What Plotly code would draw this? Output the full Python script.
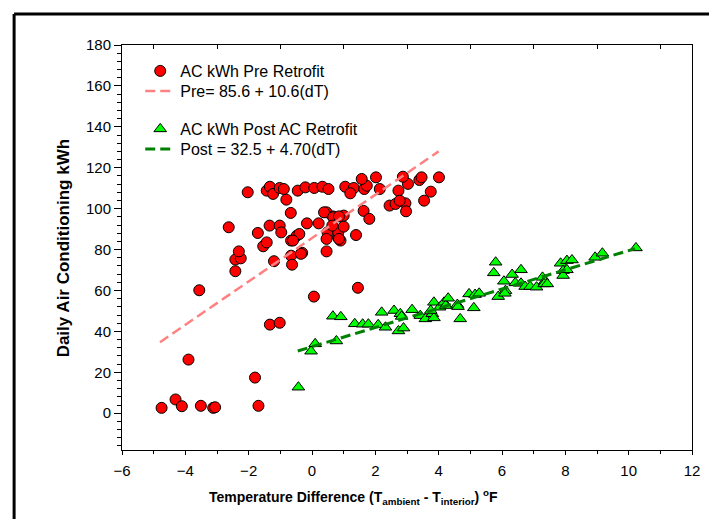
import plotly.graph_objects as go

# ---- data ----
pre_x = [-4.75, -4.31, -4.11, -3.51, -3.12, -3.06, -1.69, -1.80, -3.90, -3.56,
         -1.33, -1.02, 0.06, 1.45, -2.42, -2.42, -2.25, -2.31, -2.63, -2.03,
         -1.71, -1.54, -1.43, -1.20, -1.34, -1.02, -0.97, -0.81, -0.67, -1.43,
         -1.33, -1.23, -1.02, -0.89, -0.45, -0.21, 0.07, 0.33, 0.52, -0.66,
         -0.63, -0.66, -0.48, -0.40, -0.31, -0.16, 0.21, 0.46, 0.49, 0.46,
         0.82, 0.90, 0.83, 1.00, 1.00, 0.66, 0.46, 1.39, 1.05, 1.32,
         1.65, 1.73, 2.14, 1.63, 1.81, 2.73, 2.45, 2.64, 2.95, 2.97,
         3.03, 3.54, 1.21, 1.57, 2.02, 2.87, 3.39, 3.46, 3.75, 4.01,
         2.77, 0.38, 0.67, 0.85, 0.64, -0.60, -0.35, 0.85]
pre_y = [2.6, 6.7, 3.4, 3.6, 2.6, 2.9, 3.6, 17.4, 26.2, 60.1,
         43.3, 44.2, 57.0, 61.3, 69.4, 75.1, 75.7, 79.1, 90.9, 108.0,
         88.1, 81.6, 83.5, 74.3, 91.7, 91.7, 88.4, 104.4, 97.9, 108.8,
         110.7, 107.2, 110.1, 109.6, 108.8, 110.4, 110.1, 110.7, 109.6, 77.0,
         72.6, 84.4, 86.8, 87.6, 78.4, 92.8, 92.8, 98.2, 88.4, 85.2,
         86.0, 84.4, 88.4, 91.2, 96.6, 96.2, 79.1, 87.1, 110.7, 110.1,
         109.6, 111.2, 109.6, 98.9, 95.0, 108.8, 101.5, 102.3, 102.6, 98.7,
         112.1, 103.9, 107.5, 114.5, 115.3, 115.6, 114.0, 115.3, 108.3, 115.3,
         103.9, 98.2, 95.8, 96.2, 91.7, 84.4, 77.9, 85.2]

post_x = [-0.43, -0.03, 0.10, 0.77, 0.66, 0.91, 1.35, 1.60, 1.78, 2.09,
          2.32, 2.20, 2.59, 2.79, 2.83, 3.16, 3.42, 3.58, 2.73, 2.89,
          3.80, 3.85, 3.75, 3.85, 4.03, 4.17, 4.22, 4.30, 4.59, 4.61,
          4.68, 4.96, 5.15, 5.28, 5.11, 5.80, 5.74, 5.88, 6.06, 6.11,
          6.09, 6.32, 6.42, 6.60, 6.60, 6.73, 6.89, 7.09, 7.28, 7.35,
          7.33, 7.43, 7.85, 7.93, 7.93, 8.05, 8.05, 8.21, 8.94, 9.17,
          10.23]
post_y = [12.7, 30.3, 33.9, 35.3, 47.4, 47.1, 43.7, 43.5, 43.5, 43.2,
          42.0, 49.3, 50.2, 48.6, 47.3, 50.6, 47.7, 46.1, 40.2, 41.6,
          48.6, 46.6, 50.2, 54.2, 51.8, 54.2, 52.6, 56.2, 53.1, 52.1,
          46.1, 58.3, 58.0, 58.6, 51.5, 73.8, 68.6, 57.0, 64.5, 59.9,
          58.6, 67.8, 63.7, 70.1, 63.5, 61.9, 61.9, 61.6, 66.4, 64.5,
          63.2, 63.2, 73.3, 69.7, 67.3, 74.6, 70.1, 74.9, 76.2, 78.2,
          80.8]

# regression fits shown in the legend
pre_a, pre_b = 85.6, 10.6
post_a, post_b = 32.5, 4.70
pre_fit_x = [-4.8, 4.0]
post_fit_x = [-0.45, 10.2]

x_range = [-6, 12]
y_range = [-18, 180]
top_ticks = [-5, -3, -1, 1, 3, 5, 7, 9, 11]

# ---- layout geometry ----
# The page body has an 8px default margin, so the figure is sized to fit
# the window and all positions below are given in page pixels.
OFF = 8
W, H = 717 - 2 * OFF, 527 - 2 * OFF
PLOT_L, PLOT_R, PLOT_T, PLOT_B = 121.5, 700, 45, 450  # page pixels
ML = PLOT_L - OFF
MT = PLOT_T - OFF
MR = W - (PLOT_R - OFF)
MB = H - (PLOT_B - OFF)
PW, PH = PLOT_R - PLOT_L, PLOT_B - PLOT_T


def px_x(p):
    return (p - PLOT_L) / PW


def px_y(p):
    return (PLOT_B - p) / PH


font_family = "Arial, Liberation Sans, sans-serif"
LEG_X = 140
leg_tops = [54, 74, 112, 132]


def leg(top):
    return dict(x=px_x(LEG_X), y=px_y(top), xanchor="left", yanchor="top",
                bgcolor="rgba(0,0,0,0)",
                font=dict(size=16, family=font_family, color="black"))


fig = go.Figure()

fig.add_trace(go.Scatter(
    x=pre_x, y=pre_y, mode="markers", name="AC kWh Pre Retrofit",
    legend="legend",
    marker=dict(symbol="circle", size=11, color="#FF0000",
                line=dict(color="black", width=1))))
fig.add_trace(go.Scatter(
    x=pre_fit_x, y=[pre_a + pre_b * v for v in pre_fit_x], mode="lines",
    name="Pre= 85.6 + 10.6(dT)", legend="legend2",
    line=dict(color="#FF8080", width=2.5, dash="10px,5px")))
fig.add_trace(go.Scatter(
    x=post_x, y=post_y, mode="markers", name="AC kWh Post AC Retrofit",
    legend="legend3",
    marker=dict(symbol="triangle-up", size=11, color="#00FF00",
                line=dict(color="black", width=1))))
fig.add_trace(go.Scatter(
    x=post_fit_x, y=[post_a + post_b * v for v in post_fit_x], mode="lines",
    name="Post = 32.5 + 4.70(dT)", legend="legend4",
    line=dict(color="#008000", width=3, dash="10px,5px")))
# invisible trace carrying the top axis
fig.add_trace(go.Scatter(x=x_range, y=[None, None], xaxis="x2",
                         showlegend=False, hoverinfo="skip"))

fig.update_layout(
    width=W, height=H,
    margin=dict(l=ML, r=MR, t=MT, b=MB, pad=0),
    paper_bgcolor="white", plot_bgcolor="white",
    font=dict(family=font_family, color="black", size=15),
    showlegend=True,
    legend=leg(leg_tops[0]),
    legend2=leg(leg_tops[1]),
    legend3=leg(leg_tops[2]),
    legend4=leg(leg_tops[3]),
    xaxis=dict(range=x_range, dtick=2, tick0=0, showgrid=False,
               zeroline=False, showline=True, linecolor="black",
               linewidth=1, mirror=True, ticks="outside", ticklen=4,
               tickcolor="black", tickfont=dict(size=15),
               ticklabelstandoff=3,
               minor=dict(dtick=1, ticks="outside", ticklen=3,
                          tickcolor="black")),
    xaxis2=dict(range=x_range, overlaying="x", side="top",
                tickvals=top_ticks,
                showticklabels=False, ticks="inside", ticklen=4,
                tickcolor="black", showgrid=False, zeroline=False,
                showline=False),
    yaxis=dict(range=y_range, dtick=20, tick0=0, showgrid=False,
               zeroline=False, showline=True, linecolor="black",
               linewidth=1, mirror=True, ticks="outside", ticklen=7,
               tickcolor="black", tickfont=dict(size=15),
               minor=dict(dtick=4, ticks="outside", ticklen=4,
                          tickcolor="black")),
    annotations=[
        dict(text="<b>Daily Air Conditioning kWh</b>", xref="paper",
             yref="paper", x=px_x(62), y=px_y(248), textangle=-90,
             showarrow=False, xanchor="center", yanchor="middle",
             font=dict(size=17, family=font_family, color="black")),
        dict(text="<b>Temperature Difference (T<sub>ambient</sub> - "
                  "T<sub>interior</sub>) <sup>o</sup>F</b>",
             xref="paper", yref="paper", x=px_x(356),
             y=px_y(497), showarrow=False, xanchor="center",
             yanchor="middle",
             font=dict(size=14, family=font_family, color="black")),
    ],
    shapes=[
        dict(type="line", xref="paper", yref="paper",
             x0=px_x(12), x1=px_x(12),
             y0=px_y(14), y1=px_y(560),
             line=dict(color="black", width=3)),
        dict(type="line", xref="paper", yref="paper",
             x0=px_x(12), x1=px_x(760),
             y0=px_y(14), y1=px_y(14),
             line=dict(color="black", width=3)),
    ],
)

fig.write_html("out.html")
